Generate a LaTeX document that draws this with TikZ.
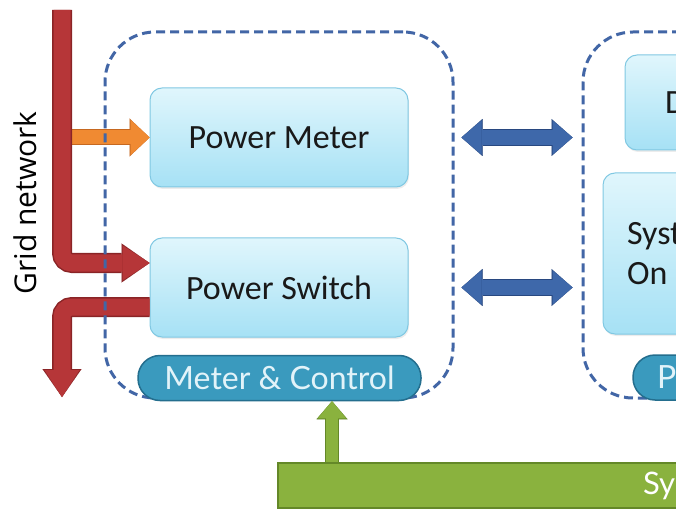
\documentclass[tikz,border=0pt]{standalone}
\usepackage{fontspec}
\setmainfont{Carlito}
\newfontfamily\pillfont{Lato}
\newfontfamily\gridfont{Open Sans}
\usetikzlibrary{arrows.meta,shadows}

\definecolor{gridred}{RGB}{182,54,56}
\definecolor{gridedge}{RGB}{138,36,38}
\definecolor{meterorange}{RGB}{240,138,50}
\definecolor{meteredge}{RGB}{198,104,32}
\definecolor{linkblue}{RGB}{62,104,170}
\definecolor{linkedge}{RGB}{40,72,128}
\definecolor{groupblue}{RGB}{66,102,166}
\definecolor{unittop}{RGB}{224,246,252}
\definecolor{unitbot}{RGB}{166,225,245}
\definecolor{unitedge}{RGB}{128,200,226}
\definecolor{pillfill}{RGB}{58,154,190}
\definecolor{pilledge}{RGB}{36,110,142}
\definecolor{pilltext}{RGB}{226,243,249}
\definecolor{sysgreen}{RGB}{138,178,62}
\definecolor{sysedge}{RGB}{100,136,40}

\begin{document}
\begin{tikzpicture}[x=1pt, y=-1pt,
  group/.style    = {draw=groupblue, line width=3pt, dash pattern=on 9pt off 5pt,
                     rounded corners=50pt, minimum height=366pt},
  unit/.style     = {draw=unitedge, line width=1pt, rounded corners=12pt,
                     top color=unittop, bottom color=unitbot, text=black!90,
                     drop shadow={opacity=0.15, shadow xshift=1pt, shadow yshift=-2pt},
                     minimum width=258pt, minimum height=99pt, inner sep=0pt,
                     font=\fontsize{34}{40}\selectfont},
  pill/.style     = {draw=pilledge, line width=1.5pt, rounded corners=22pt,
                     fill=pillfill, text=pilltext, minimum height=45pt, inner sep=0pt,
                     font=\pillfont\fontsize{32}{36}\selectfont},
  sysbar/.style   = {draw=sysedge, line width=2pt, fill=sysgreen, text=white,
                     minimum height=45pt, inner sep=0pt,
                     font=\pillfont\fontsize{31}{36}\selectfont},
  gridlbl/.style  = {font=\gridfont\fontsize{30}{34}\selectfont, inner sep=0pt},
  % block arrows: a wide shaft, the darker edge is a slightly wider preaction
  gridflow/.style = {draw=gridred, line width=17pt, rounded corners=10pt,
                     -{Triangle[length=27pt,width=35pt,line width=0.01pt]},
                     preaction={draw=gridedge, line width=20pt,
                       -{Triangle[length=28pt,width=39pt,line width=0.01pt]}}},
  meterflow/.style= {draw=meterorange, line width=14pt,
                     -{Triangle[length=19pt,width=35pt,line width=0.01pt]},
                     preaction={draw=meteredge, line width=16pt,
                       -{Triangle[length=20pt,width=38pt,line width=0.01pt]}}},
  link/.style     = {draw=linkblue, line width=15pt,
                     {Triangle[length=20pt,width=34pt,line width=0.01pt]}-{Triangle[length=20pt,width=34pt,line width=0.01pt]},
                     preaction={draw=linkedge, line width=17pt,
                       {Triangle[length=21pt,width=37pt,line width=0.01pt]}-{Triangle[length=21pt,width=37pt,line width=0.01pt]}}},
  sysflow/.style  = {draw=sysgreen, line width=12pt,
                     -{Triangle[length=17pt,width=28pt,line width=0.01pt]},
                     preaction={draw=sysedge, line width=14pt,
                       -{Triangle[length=18pt,width=31pt,line width=0.01pt]}}},
]
  \useasboundingbox (0,0) rectangle (676,510);
  \clip (0,0) rectangle (676,510);

  % meter & control side
  \node[unit] (meter)  at (279,137.5) {Power Meter};
  \node[unit] (switch) at (279,287.5) {Power Switch};

  % the other side, running off to the right
  \node[unit, minimum width=240pt, minimum height=95pt, text width=160pt, align=left]
    (disp) at (745,102.5) {D};
  \node[unit, minimum width=240pt, minimum height=161pt, text width=192pt, align=left]
    (soc) at (723,253.5) {Syst\\On};

  % grid feed
  \coordinate (gridtop) at (62,10);
  \coordinate (gridout) at (62,397);
  \node[gridlbl, rotate=90] (gridname) at (25,203) {Grid network};

  \draw[meterflow] (gridtop |- meter.west) -- (meter.west);
  \draw[gridflow] (gridtop) |- ([yshift=24.5pt]switch.west);
  \draw[gridflow] ([yshift=-19.5pt]switch.west) -| (gridout);

  % the two dashed groups, over the feed arrows
  \node[group, minimum width=348pt] (meterside) at (279,215) {};
  \node[group, minimum width=400pt] (chipside) at (783,215) {};

  \node[pill, minimum width=283pt] (mc) at (279.5,378) {Meter \& Control};
  \node[pill, minimum width=240pt, text width=192pt, align=left] (proc) at (753,377.5) {Pr};
  \node[sysbar, minimum width=900pt, text width=170pt, align=left] (sys) at (728,485.5) {Sy};

  % links between the groups
  \draw[link] ([xshift=7pt]meterside.east |- meter.east) -- ([xshift=-9pt]chipside.west |- meter.east);
  \draw[link] ([xshift=7pt]meterside.east |- switch.east) -- ([xshift=-9pt]chipside.west |- switch.east);

  \draw[sysflow] ([xshift=52.5pt]mc.south |- sys.north) -- ([xshift=52.5pt]mc.south);
\end{tikzpicture}
\end{document}
